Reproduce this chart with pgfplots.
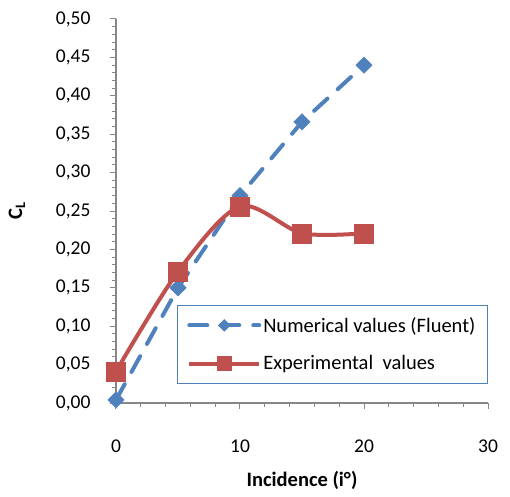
\documentclass[border=0pt]{standalone}
\usepackage{pgfplots}
\pgfplotsset{compat=1.18}
\usepackage{fontspec}
\setmainfont{Carlito}
\definecolor{exblue}{HTML}{4F81BD}
\definecolor{exred}{HTML}{C0504D}
\definecolor{axgray}{HTML}{868686}
\begin{document}
\begin{tikzpicture}
\begin{axis}[
  scale only axis,
  width=372bp, height=384bp,
  xmin=0, xmax=30, ymin=0, ymax=0.5,
  xtick={0,10,20,30},
  minor x tick num=4,
  ytick={0,0.05,...,0.5},
  minor y tick num=4,
  axis x line*=bottom, axis y line*=left,
  axis line style={axgray, line width=1.2bp, -},
  tick style={axgray, line width=1bp},
  tick align=outside,
  major tick length=6bp, minor tick length=4bp,
  every tick label/.style={font=\fontsize{19.5bp}{22bp}\selectfont, black},
  /pgf/number format/assume math mode=true,
  yticklabel style={/pgf/number format/use comma, /pgf/number format/fixed, /pgf/number format/fixed zerofill, /pgf/number format/precision=2, xshift=-16bp},
  xticklabel style={yshift=-27bp},
  xlabel={\textbf{Incidence (i°)}},
  ylabel={\textbf{C\textsubscript{L}}},
  label style={font=\fontsize{20.5bp}{24bp}\selectfont},
  xlabel style={yshift=-12bp},
  ylabel style={yshift=24bp},
  clip=false,
  legend style={
    at={(axis cs:4.9,0.128)}, anchor=north west,
    draw=exblue, line width=1bp,
    font=\fontsize{20.5bp}{24bp}\selectfont,
    row sep=18bp, inner xsep=10bp, inner ysep=10bp,
  },
  legend cell align=left,
  legend image code/.code={\draw[mark repeat=2,mark phase=2,#1, every mark/.append style={scale=0.72}] plot coordinates {(4bp,0bp)(39bp,0bp)(74bp,0bp)};},
]
\addplot[exblue, line width=4bp, dash pattern=on 18bp off 14bp, line cap=round,
  mark=square*, mark size=5.8bp, mark options={solid, rotate=45, fill=exblue, line width=0.5bp}]
  coordinates {(0,0.004)(5,0.150)(10,0.270)(15,0.366)(20,0.440)};
\addlegendentry{Numerical values (Fluent)}
\addplot[exred, line width=4bp, smooth,
  mark=square*, mark size=9.5bp, mark options={solid, fill=exred, line width=0.5bp}]
  coordinates {(0,0.041)(5,0.171)(10,0.256)(15,0.221)(20,0.221)};
\addlegendentry{Experimental\ \ values}
\end{axis}
\path (current axis.south west) ++(-116bp,-94bp) rectangle ++(510bp,497bp);
\end{tikzpicture}
\end{document}
